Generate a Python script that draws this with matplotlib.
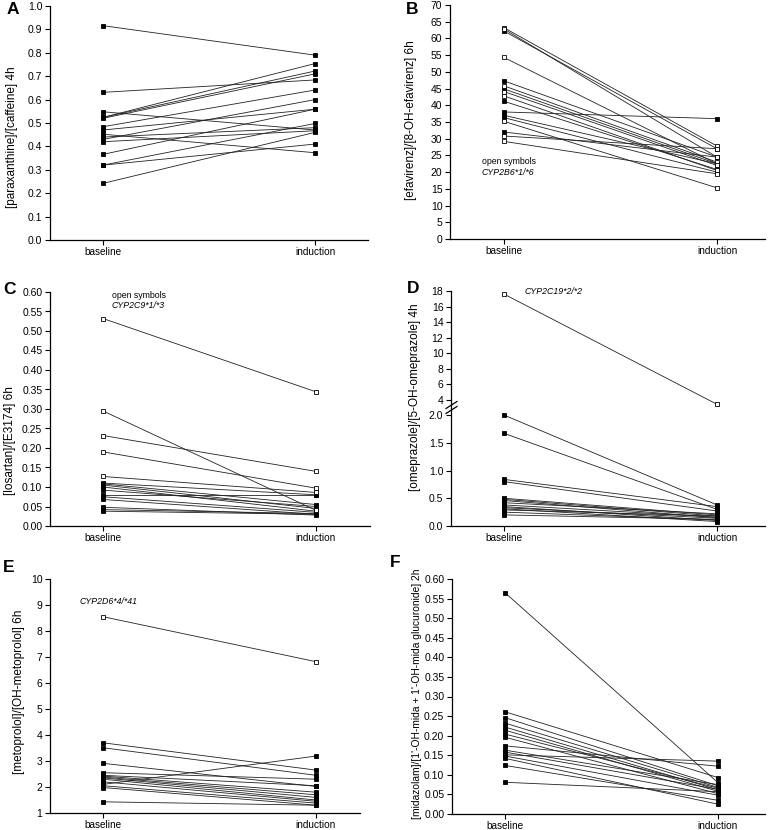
import matplotlib
matplotlib.use('Agg')
import matplotlib.pyplot as plt
from matplotlib.lines import Line2D
import numpy as np

plt.rcParams['font.family'] = ['Liberation Sans', 'DejaVu Sans']

# ---------------- data ----------------
categories = ['baseline', 'induction']

# A: paraxanthine/caffeine 4h
a_base = [0.916, 0.631, 0.548, 0.524, 0.524, 0.520, 0.484, 0.470, 0.452, 0.430, 0.420, 0.366, 0.320, 0.320, 0.242, 0.440]
a_ind  = [0.790, 0.684, 0.470, 0.754, 0.722, 0.710, 0.641, 0.559, 0.373, 0.600, 0.467, 0.559, 0.498, 0.410, 0.460, 0.480]

# B: efavirenz/8-OH-efavirenz 6h (open = CYP2B6*1/*6)
b_base = [63.2, 62.8, 62.2, 54.3, 47.3, 45.8, 44.9, 44.1, 42.8, 41.2, 38.0, 37.0, 36.3, 35.2, 32.0, 30.8, 29.2]
b_ind  = [27.8, 24.5, 27.0, 22.5, 24.5, 23.0, 22.5, 22.0, 20.5, 20.8, 36.0, 22.5, 20.0, 15.3, 24.5, 27.0, 19.5]
b_open = [1, 1, 0, 1, 0, 1, 0, 1, 1, 0, 0, 0, 0, 1, 0, 1, 1]

# C: losartan/E3174 6h (open = CYP2C9*1/*3)
c_base = [0.532, 0.295, 0.232, 0.190, 0.127, 0.110, 0.108, 0.105, 0.100, 0.092, 0.080, 0.075, 0.068, 0.048, 0.042, 0.038]
c_ind  = [0.344, 0.040, 0.140, 0.097, 0.086, 0.080, 0.055, 0.045, 0.038, 0.050, 0.080, 0.035, 0.030, 0.028, 0.032, 0.030]
c_open = [1, 1, 1, 1, 1, 0, 0, 0, 0, 0, 0, 0, 0, 0, 0, 0]

# D: omeprazole/5-OH-omeprazole 4h (open = CYP2C19*2/*2)
d_base = [17.6, 2.00, 1.67, 0.84, 0.80, 0.50, 0.48, 0.46, 0.42, 0.38, 0.35, 0.33, 0.31, 0.29, 0.25, 0.20]
d_ind  = [3.45, 0.38, 0.30, 0.35, 0.27, 0.20, 0.18, 0.15, 0.22, 0.16, 0.10, 0.14, 0.08, 0.18, 0.11, 0.12]
d_open = [1, 0, 0, 0, 0, 0, 0, 0, 0, 0, 0, 0, 0, 0, 0, 0]

# E: metoprolol/OH-metoprolol 6h (open = CYP2D6*4/*41)
e_base = [8.55, 3.70, 3.51, 2.91, 2.55, 2.45, 2.42, 2.38, 2.35, 2.30, 2.20, 2.10, 2.05, 1.98, 1.43]
e_ind  = [6.82, 2.65, 2.45, 2.02, 2.30, 2.05, 1.80, 1.70, 1.60, 1.50, 1.45, 3.19, 1.38, 1.30, 1.30]
e_open = [1, 0, 0, 0, 0, 0, 0, 0, 0, 0, 0, 0, 0, 0, 0]

# F: midazolam/(1'-OH-mida + 1'-OH-mida glucuronide) 2h
f_base = [0.565, 0.261, 0.246, 0.232, 0.222, 0.214, 0.204, 0.196, 0.174, 0.163, 0.158, 0.151, 0.148, 0.142, 0.124, 0.081]
f_ind  = [0.080, 0.093, 0.072, 0.068, 0.062, 0.058, 0.066, 0.052, 0.122, 0.075, 0.063, 0.135, 0.048, 0.025, 0.035, 0.057]

# ---------------- layout helpers ----------------
W, H = 773, 830
fig = plt.figure(figsize=(W / 100, H / 100), dpi=100)

TICK_FS = 7.5
CAT_FS = 7.2
LAB_FS = 8.5
LET_FS = 12.5
ANN_FS = 6.3
LW = 0.6
MS = 3.4


def add_ax(x0, x1, y0, y1, bx, ix):
    ax = fig.add_axes([x0 / W, 1 - y1 / H, (x1 - x0) / W, (y1 - y0) / H])
    span = ix - bx
    ax.set_xlim(-(bx - x0) / span, 1 + (x1 - ix) / span)
    for s in ('top', 'right'):
        ax.spines[s].set_visible(False)
    for s in ('left', 'bottom'):
        ax.spines[s].set_linewidth(0.9)
    ax.tick_params(axis='both', direction='out', length=3.5, width=0.8,
                   labelsize=TICK_FS, pad=2)
    ax.set_xticks([0, 1])
    ax.set_xticklabels(categories, fontsize=CAT_FS)
    ax.tick_params(axis='x', pad=1.5)
    return ax


def draw_pairs(ax, base, ind, opn=None):
    flags = [bool(opn[k]) if opn is not None else False for k in range(len(base))]
    for b, i in zip(base, ind):
        ax.plot([0, 1], [b, i], color='#222222', lw=LW, zorder=2)
    for b, i, o in zip(base, ind, flags):
        ax.plot([0, 1], [b, i], ls='none', marker='s', ms=MS,
                mfc='white' if o else 'black', mec='black', mew=0.6,
                zorder=4 if o else 3, clip_on=False)


def ylabel(text, x, y, fs=LAB_FS):
    fig.text(x / W, 1 - y / H, text, rotation=90, ha='center', va='center',
             fontsize=fs)


def letter(text, x, y):
    fig.text(x / W, 1 - y / H, text, ha='center', va='center',
             fontsize=LET_FS, fontweight='bold')


def ann(text, x, y, italic=False):
    fig.text(x / W, 1 - y / H, text, ha='left', va='center', fontsize=ANN_FS,
             style='italic' if italic else 'normal')


# ---------------- Panel A ----------------
axA = add_ax(50, 368, 6, 240, 103, 315)
axA.set_ylim(0, 1.0)
axA.set_yticks(np.arange(0, 1.001, 0.1))
axA.set_yticklabels(['%.1f' % v for v in np.arange(0, 1.001, 0.1)])
draw_pairs(axA, a_base, a_ind)
ylabel('[paraxanthine]/[caffeine] 4h', 12, 137)
letter('A', 13, 10)

# ---------------- Panel B ----------------
axB = add_ax(450, 765, 5, 239, 504, 717)
axB.set_ylim(0, 70)
axB.set_yticks(np.arange(0, 71, 5))
draw_pairs(axB, b_base, b_ind, b_open)
ylabel('[efavirenz]/[8-OH-efavirenz] 6h', 411, 120)
letter('B', 412, 10)
ann('open symbols', 482, 161.5)
ann('CYP2B6*1/*6', 482, 172.5, italic=True)

# ---------------- Panel C ----------------
axC = add_ax(50, 370, 292, 526, 103, 316)
axC.set_ylim(0, 0.6)
cy = np.arange(0, 0.6001, 0.05)
axC.set_yticks(cy)
axC.set_yticklabels(['%.2f' % v for v in cy])
draw_pairs(axC, c_base, c_ind, c_open)
ylabel('[losartan]/[E3174] 6h', 10, 441)
letter('C', 9, 289)
ann('open symbols', 112, 295)
ann('CYP2C9*1/*3', 112, 305, italic=True)

# ---------------- Panel D (broken axis) ----------------
axDu = add_ax(451, 765, 290.6, 407.8, 504, 717)
axDl = add_ax(451, 765, 409.5, 526, 504, 717)
axDu.set_ylim(3.0, 18.05)
axDu.set_yticks(np.arange(4, 19, 2))
axDu.spines['bottom'].set_visible(False)
axDu.tick_params(axis='x', which='both', bottom=False, labelbottom=False)
axDl.set_ylim(0, 2.1)
axDl.set_yticks([0, 0.5, 1.0, 1.5, 2.0])
axDl.set_yticklabels(['0.0', '0.5', '1.0', '1.5', '2.0'])
hi = [k for k, v in enumerate(d_base) if v > 2.5]
lo = [k for k, v in enumerate(d_base) if v <= 2.5]
draw_pairs(axDu, [d_base[k] for k in hi], [d_ind[k] for k in hi], [d_open[k] for k in hi])
draw_pairs(axDl, [d_base[k] for k in lo], [d_ind[k] for k in lo], [d_open[k] for k in lo])
for yy in (405.0, 410.0):
    fig.add_artist(Line2D([446 / W, 457 / W], [1 - (yy + 3.5) / H, 1 - (yy - 3.5) / H],
                          color='black', lw=0.9))
ylabel('[omeprazole]/[5-OH-omeprazole] 4h', 415, 397)
letter('D', 413, 288)
ann('CYP2C19*2/*2', 525, 291.5, italic=True)

# ---------------- Panel E ----------------
axE = add_ax(50, 360, 579, 813, 103, 316)
axE.set_ylim(1, 10)
axE.set_yticks(np.arange(1, 11, 1))
draw_pairs(axE, e_base, e_ind, e_open)
ylabel('[metoprolol]/[OH-metoprolol] 6h', 19, 692)
letter('E', 9, 567)
ann('CYP2D6*4/*41', 80, 602, italic=True)

# ---------------- Panel F ----------------
axF = add_ax(452, 765, 579, 814, 505, 718)
axF.set_ylim(0, 0.6)
fy = np.arange(0, 0.6001, 0.05)
axF.set_yticks(fy)
axF.set_yticklabels(['%.2f' % v for v in fy])
draw_pairs(axF, f_base, f_ind)
ylabel("[midazolam]/[1'-OH-mida + 1'-OH-mida glucuronide] 2h", 417, 694, fs=7.4)
letter('F', 395, 562)

fig.savefig('out.png', dpi=100)
